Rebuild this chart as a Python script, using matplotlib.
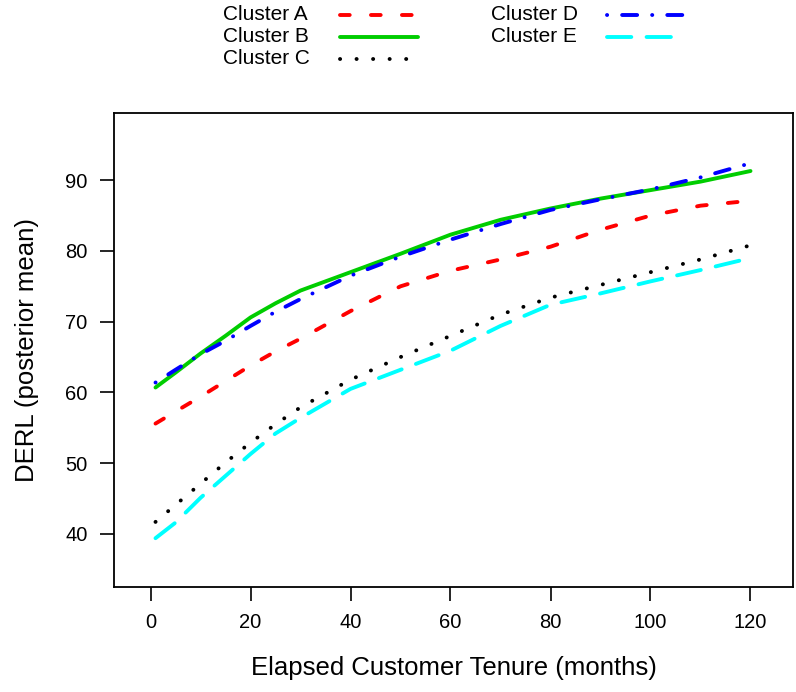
import matplotlib
matplotlib.use("Agg")
import matplotlib.pyplot as plt
from matplotlib.lines import Line2D

plt.rcParams["font.family"] = ["Liberation Sans", "DejaVu Sans"]
plt.rcParams["lines.scale_dashes"] = False

# months of elapsed tenure
tenure = [1, 5, 10, 15, 20, 25, 30, 40, 50, 60, 70, 80, 90, 100, 110, 120]

# posterior mean DERL per cluster
cluster_a = [55.6, 57.3, 59.4, 61.6, 63.8, 65.8, 67.6, 71.5, 75.0, 77.2, 78.8, 80.6, 83.0, 85.0, 86.4, 87.1]
cluster_b = [60.7, 62.8, 65.5, 68.0, 70.6, 72.6, 74.4, 77.0, 79.6, 82.3, 84.4, 86.0, 87.4, 88.6, 89.8, 91.3]
cluster_c = [41.7, 44.1, 47.1, 50.1, 52.9, 55.5, 57.9, 61.8, 65.0, 68.0, 71.0, 73.4, 75.2, 77.0, 78.8, 80.8]
cluster_d = [61.4, 63.2, 65.4, 67.3, 69.4, 71.4, 73.2, 76.5, 79.2, 81.6, 83.8, 85.8, 87.3, 88.7, 90.4, 92.4]
cluster_e = [39.4, 41.6, 45.1, 48.2, 51.3, 54.2, 56.4, 60.5, 63.2, 65.9, 69.4, 72.4, 74.0, 75.7, 77.3, 79.0]

labels = ["Cluster A", "Cluster B", "Cluster C", "Cluster D", "Cluster E"]
series = [cluster_a, cluster_b, cluster_c, cluster_d, cluster_e]

# R-like line types (dash lengths in points, round caps)
styles = [
    dict(color="red", ls=(0, (7.0, 15.3))),
    dict(color="#00CD00", ls="-"),
    dict(color="black", ls=(0, (0.1, 11.8))),
    dict(color="blue", ls=(0, (0.1, 10.8, 10.8, 10.8))),
    dict(color="cyan", ls=(0, (17.5, 11.0))),
]
LW = 2.8

W, H = 796, 692
fig = plt.figure(figsize=(W / 100, H / 100), dpi=100)
ax = fig.add_axes([114 / W, 1 - 587 / H, (793 - 114) / W, (587 - 113) / H])

for vals, st in zip(series, styles):
    ax.plot(tenure, vals, lw=LW, solid_capstyle="round", dash_capstyle="round", **st)

ax.set_xlim(-7.3, 128.5)
ax.set_ylim(32.5, 99.5)
ax.set_xticks(range(0, 121, 20))
ax.set_yticks(range(40, 91, 10))
ax.tick_params(direction="out", length=10, width=1.2, labelsize=14.5, pad=9)
for sp in ax.spines.values():
    sp.set_linewidth(1.3)

fig.text(27 / W, 1 - 350 / H, "DERL (posterior mean)", rotation=90,
         ha="center", va="center", fontsize=18.5)
fig.text(454 / W, 1 - 668 / H, "Elapsed Customer Tenure (months)",
         ha="center", va="center", fontsize=18.5)

# legend drawn by hand, two columns, text left of the line sample
rows = [15, 37, 59]
cols = [(223, 340, 418), (491, 607, 683)]
for i, (lab, st) in enumerate(zip(labels, styles)):
    tx, x0, x1 = cols[i // 3]
    py = rows[i % 3]
    fy = 1 - py / H
    fig.text(tx / W, fy, lab, ha="left", va="center", fontsize=15)
    fig.add_artist(Line2D([x0 / W, x1 / W], [fy, fy], transform=fig.transFigure,
                          lw=LW, solid_capstyle="round", dash_capstyle="round", **st))

fig.savefig("out.png", dpi=100)
